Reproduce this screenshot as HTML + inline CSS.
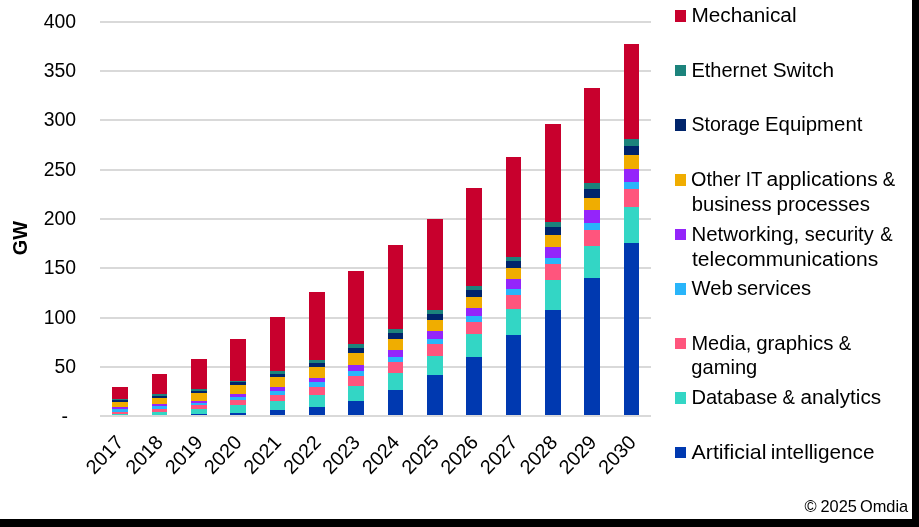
<!DOCTYPE html>
<html><head><meta charset="utf-8"><title>chart</title>
<style>
html,body{margin:0;padding:0;background:#fff;}
body{width:919px;height:527px;overflow:hidden;}
svg{display:block;will-change:transform;font-family:"Liberation Sans",sans-serif;}
</style></head><body>
<svg width="919" height="527" viewBox="0 0 919 527">
<rect x="0" y="0" width="919" height="527" fill="#ffffff"/>

<g shape-rendering="crispEdges" fill="#D9D9D9">
<rect x="100" y="21" width="551" height="2"/>
<rect x="100" y="70" width="551" height="2"/>
<rect x="100" y="119" width="551" height="2"/>
<rect x="100" y="169" width="551" height="2"/>
<rect x="100" y="218" width="551" height="2"/>
<rect x="100" y="267" width="551" height="2"/>
<rect x="100" y="317" width="551" height="2"/>
<rect x="100" y="366" width="551" height="2"/>
<rect x="100" y="415" width="551" height="2"/>
</g>
<g shape-rendering="crispEdges">
<rect x="112" y="387" width="16" height="12" fill="#C8002D"/>
<rect x="112" y="399" width="16" height="1" fill="#1C837C"/>
<rect x="112" y="400" width="16" height="2" fill="#00246B"/>
<rect x="112" y="402" width="16" height="5" fill="#F0AD00"/>
<rect x="112" y="407" width="16" height="2" fill="#9425FA"/>
<rect x="112" y="409" width="16" height="3" fill="#29B5FA"/>
<rect x="112" y="412" width="16" height="2" fill="#FF557D"/>
<rect x="112" y="414" width="16" height="1" fill="#33D6C5"/>
<rect x="152" y="374" width="15" height="20" fill="#C8002D"/>
<rect x="152" y="394" width="15" height="2" fill="#1C837C"/>
<rect x="152" y="396" width="15" height="2" fill="#00246B"/>
<rect x="152" y="398" width="15" height="6" fill="#F0AD00"/>
<rect x="152" y="404" width="15" height="2" fill="#9425FA"/>
<rect x="152" y="406" width="15" height="3" fill="#29B5FA"/>
<rect x="152" y="409" width="15" height="3" fill="#FF557D"/>
<rect x="152" y="412" width="15" height="3" fill="#33D6C5"/>
<rect x="191" y="359" width="16" height="30" fill="#C8002D"/>
<rect x="191" y="389" width="16" height="2" fill="#1C837C"/>
<rect x="191" y="391" width="16" height="2" fill="#00246B"/>
<rect x="191" y="393" width="16" height="8" fill="#F0AD00"/>
<rect x="191" y="401" width="16" height="2" fill="#9425FA"/>
<rect x="191" y="403" width="16" height="2" fill="#29B5FA"/>
<rect x="191" y="405" width="16" height="4" fill="#FF557D"/>
<rect x="191" y="409" width="16" height="5" fill="#33D6C5"/>
<rect x="191" y="414" width="16" height="1" fill="#0039B0"/>
<rect x="230" y="339" width="16" height="42" fill="#C8002D"/>
<rect x="230" y="381" width="16" height="1" fill="#1C837C"/>
<rect x="230" y="382" width="16" height="3" fill="#00246B"/>
<rect x="230" y="385" width="16" height="9" fill="#F0AD00"/>
<rect x="230" y="394" width="16" height="3" fill="#9425FA"/>
<rect x="230" y="397" width="16" height="3" fill="#29B5FA"/>
<rect x="230" y="400" width="16" height="5" fill="#FF557D"/>
<rect x="230" y="405" width="16" height="8" fill="#33D6C5"/>
<rect x="230" y="413" width="16" height="2" fill="#0039B0"/>
<rect x="270" y="317" width="15" height="54" fill="#C8002D"/>
<rect x="270" y="371" width="15" height="3" fill="#1C837C"/>
<rect x="270" y="374" width="15" height="3" fill="#00246B"/>
<rect x="270" y="377" width="15" height="10" fill="#F0AD00"/>
<rect x="270" y="387" width="15" height="4" fill="#9425FA"/>
<rect x="270" y="391" width="15" height="4" fill="#29B5FA"/>
<rect x="270" y="395" width="15" height="6" fill="#FF557D"/>
<rect x="270" y="401" width="15" height="9" fill="#33D6C5"/>
<rect x="270" y="410" width="15" height="5" fill="#0039B0"/>
<rect x="309" y="292" width="16" height="68" fill="#C8002D"/>
<rect x="309" y="360" width="16" height="3" fill="#1C837C"/>
<rect x="309" y="363" width="16" height="4" fill="#00246B"/>
<rect x="309" y="367" width="16" height="11" fill="#F0AD00"/>
<rect x="309" y="378" width="16" height="4" fill="#9425FA"/>
<rect x="309" y="382" width="16" height="5" fill="#29B5FA"/>
<rect x="309" y="387" width="16" height="8" fill="#FF557D"/>
<rect x="309" y="395" width="16" height="12" fill="#33D6C5"/>
<rect x="309" y="407" width="16" height="8" fill="#0039B0"/>
<rect x="348" y="271" width="16" height="73" fill="#C8002D"/>
<rect x="348" y="344" width="16" height="4" fill="#1C837C"/>
<rect x="348" y="348" width="16" height="5" fill="#00246B"/>
<rect x="348" y="353" width="16" height="12" fill="#F0AD00"/>
<rect x="348" y="365" width="16" height="6" fill="#9425FA"/>
<rect x="348" y="371" width="16" height="5" fill="#29B5FA"/>
<rect x="348" y="376" width="16" height="10" fill="#FF557D"/>
<rect x="348" y="386" width="16" height="15" fill="#33D6C5"/>
<rect x="348" y="401" width="16" height="14" fill="#0039B0"/>
<rect x="388" y="245" width="15" height="84" fill="#C8002D"/>
<rect x="388" y="329" width="15" height="4" fill="#1C837C"/>
<rect x="388" y="333" width="15" height="6" fill="#00246B"/>
<rect x="388" y="339" width="15" height="11" fill="#F0AD00"/>
<rect x="388" y="350" width="15" height="7" fill="#9425FA"/>
<rect x="388" y="357" width="15" height="5" fill="#29B5FA"/>
<rect x="388" y="362" width="15" height="11" fill="#FF557D"/>
<rect x="388" y="373" width="15" height="17" fill="#33D6C5"/>
<rect x="388" y="390" width="15" height="25" fill="#0039B0"/>
<rect x="427" y="219" width="16" height="91" fill="#C8002D"/>
<rect x="427" y="310" width="16" height="4" fill="#1C837C"/>
<rect x="427" y="314" width="16" height="6" fill="#00246B"/>
<rect x="427" y="320" width="16" height="11" fill="#F0AD00"/>
<rect x="427" y="331" width="16" height="8" fill="#9425FA"/>
<rect x="427" y="339" width="16" height="5" fill="#29B5FA"/>
<rect x="427" y="344" width="16" height="12" fill="#FF557D"/>
<rect x="427" y="356" width="16" height="19" fill="#33D6C5"/>
<rect x="427" y="375" width="16" height="40" fill="#0039B0"/>
<rect x="466" y="188" width="16" height="98" fill="#C8002D"/>
<rect x="466" y="286" width="16" height="4" fill="#1C837C"/>
<rect x="466" y="290" width="16" height="7" fill="#00246B"/>
<rect x="466" y="297" width="16" height="11" fill="#F0AD00"/>
<rect x="466" y="308" width="16" height="8" fill="#9425FA"/>
<rect x="466" y="316" width="16" height="6" fill="#29B5FA"/>
<rect x="466" y="322" width="16" height="12" fill="#FF557D"/>
<rect x="466" y="334" width="16" height="23" fill="#33D6C5"/>
<rect x="466" y="357" width="16" height="58" fill="#0039B0"/>
<rect x="506" y="157" width="15" height="100" fill="#C8002D"/>
<rect x="506" y="257" width="15" height="4" fill="#1C837C"/>
<rect x="506" y="261" width="15" height="7" fill="#00246B"/>
<rect x="506" y="268" width="15" height="11" fill="#F0AD00"/>
<rect x="506" y="279" width="15" height="10" fill="#9425FA"/>
<rect x="506" y="289" width="15" height="6" fill="#29B5FA"/>
<rect x="506" y="295" width="15" height="14" fill="#FF557D"/>
<rect x="506" y="309" width="15" height="26" fill="#33D6C5"/>
<rect x="506" y="335" width="15" height="80" fill="#0039B0"/>
<rect x="545" y="124" width="16" height="98" fill="#C8002D"/>
<rect x="545" y="222" width="16" height="5" fill="#1C837C"/>
<rect x="545" y="227" width="16" height="8" fill="#00246B"/>
<rect x="545" y="235" width="16" height="12" fill="#F0AD00"/>
<rect x="545" y="247" width="16" height="11" fill="#9425FA"/>
<rect x="545" y="258" width="16" height="6" fill="#29B5FA"/>
<rect x="545" y="264" width="16" height="16" fill="#FF557D"/>
<rect x="545" y="280" width="16" height="30" fill="#33D6C5"/>
<rect x="545" y="310" width="16" height="105" fill="#0039B0"/>
<rect x="584" y="88" width="16" height="95" fill="#C8002D"/>
<rect x="584" y="183" width="16" height="6" fill="#1C837C"/>
<rect x="584" y="189" width="16" height="9" fill="#00246B"/>
<rect x="584" y="198" width="16" height="12" fill="#F0AD00"/>
<rect x="584" y="210" width="16" height="13" fill="#9425FA"/>
<rect x="584" y="223" width="16" height="7" fill="#29B5FA"/>
<rect x="584" y="230" width="16" height="16" fill="#FF557D"/>
<rect x="584" y="246" width="16" height="32" fill="#33D6C5"/>
<rect x="584" y="278" width="16" height="137" fill="#0039B0"/>
<rect x="624" y="44" width="15" height="95" fill="#C8002D"/>
<rect x="624" y="139" width="15" height="7" fill="#1C837C"/>
<rect x="624" y="146" width="15" height="9" fill="#00246B"/>
<rect x="624" y="155" width="15" height="14" fill="#F0AD00"/>
<rect x="624" y="169" width="15" height="13" fill="#9425FA"/>
<rect x="624" y="182" width="15" height="7" fill="#29B5FA"/>
<rect x="624" y="189" width="15" height="18" fill="#FF557D"/>
<rect x="624" y="207" width="15" height="36" fill="#33D6C5"/>
<rect x="624" y="243" width="15" height="172" fill="#0039B0"/>
</g>
<g font-size="19.4" fill="#000" text-anchor="end">
<text x="76" y="27.7">400</text>
<text x="76" y="76.7">350</text>
<text x="76" y="125.7">300</text>
<text x="76" y="175.7">250</text>
<text x="76" y="224.7">200</text>
<text x="76" y="273.7">150</text>
<text x="76" y="323.7">100</text>
<text x="76" y="372.7">50</text>
<text x="68" y="423.2">-</text>
</g>
<text transform="translate(27.2,238.2) rotate(-90)" font-size="19.8" font-weight="bold" text-anchor="middle" fill="#000">GW</text>
<g font-size="19.8" fill="#000" text-anchor="end">
<text transform="translate(124.6,443.2) rotate(-46.5)">2017</text>
<text transform="translate(164.2,443.2) rotate(-46.5)">2018</text>
<text transform="translate(203.8,443.2) rotate(-46.5)">2019</text>
<text transform="translate(242.8,443.2) rotate(-46.5)">2020</text>
<text transform="translate(282.4,443.2) rotate(-46.5)">2021</text>
<text transform="translate(322.0,443.2) rotate(-46.5)">2022</text>
<text transform="translate(361.1,443.2) rotate(-46.5)">2023</text>
<text transform="translate(400.7,443.2) rotate(-46.5)">2024</text>
<text transform="translate(440.2,443.2) rotate(-46.5)">2025</text>
<text transform="translate(479.3,443.2) rotate(-46.5)">2026</text>
<text transform="translate(518.9,443.2) rotate(-46.5)">2027</text>
<text transform="translate(558.5,443.2) rotate(-46.5)">2028</text>
<text transform="translate(597.6,443.2) rotate(-46.5)">2029</text>
<text transform="translate(637.1,443.2) rotate(-46.5)">2030</text>
</g>
<g font-size="19.8" fill="#000">
<rect x="675" y="10" width="11" height="12" fill="#C8002D" shape-rendering="crispEdges"/>
<text transform="translate(691.38,21.80) scale(1.0504,1)">Mechanical</text>
<rect x="675" y="65" width="11" height="11" fill="#1C837C" shape-rendering="crispEdges"/>
<text transform="translate(691.44,76.80) scale(1.0113,1)">Ethernet</text>
<text transform="translate(772.75,76.80) scale(1.0497,1)">Switch</text>
<rect x="675" y="119" width="11" height="12" fill="#00246B" shape-rendering="crispEdges"/>
<text transform="translate(691.39,130.70) scale(0.9893,1)">Storage</text>
<text transform="translate(765.01,130.70) scale(1.0292,1)">Equipment</text>
<rect x="675" y="174" width="11" height="12" fill="#F0AD00" shape-rendering="crispEdges"/>
<text transform="translate(691.07,185.70) scale(0.9981,1)">Other</text>
<text transform="translate(745.76,185.70) scale(0.9400,1)">IT</text>
<text transform="translate(766.44,185.70) scale(1.0645,1)">applications</text>
<text transform="translate(882.75,185.70) scale(0.9400,1)">&amp;</text>
<text transform="translate(691.74,210.60) scale(1.0211,1)">business</text>
<text transform="translate(776.52,210.60) scale(1.0352,1)">processes</text>
<rect x="675" y="229" width="11" height="11" fill="#9425FA" shape-rendering="crispEdges"/>
<text transform="translate(691.40,240.80) scale(1.0314,1)">Networking,</text>
<text transform="translate(804.79,240.80) scale(1.0102,1)">security</text>
<text transform="translate(880.25,240.80) scale(0.9400,1)">&amp;</text>
<text transform="translate(692.00,265.70) scale(1.0645,1)">telecommunications</text>
<rect x="675" y="283" width="11" height="12" fill="#29B5FA" shape-rendering="crispEdges"/>
<text transform="translate(691.50,294.60) scale(1.0214,1)">Web</text>
<text transform="translate(736.98,294.60) scale(1.0225,1)">services</text>
<rect x="675" y="338" width="11" height="11" fill="#FF557D" shape-rendering="crispEdges"/>
<text transform="translate(691.44,349.60) scale(1.0088,1)">Media,</text>
<text transform="translate(756.16,349.60) scale(1.0326,1)">graphics</text>
<text transform="translate(838.85,349.60) scale(0.9400,1)">&amp;</text>
<text transform="translate(691.37,374.20) scale(1.0157,1)">gaming</text>
<rect x="675" y="392" width="11" height="12" fill="#33D6C5" shape-rendering="crispEdges"/>
<text transform="translate(691.43,403.80) scale(1.0157,1)">Database</text>
<text transform="translate(782.55,403.80) scale(0.9400,1)">&amp;</text>
<text transform="translate(800.55,403.80) scale(1.0462,1)">analytics</text>
<rect x="675" y="447" width="11" height="11" fill="#0039B0" shape-rendering="crispEdges"/>
<text transform="translate(691.50,458.80) scale(1.0808,1)">Artificial</text>
<text transform="translate(770.70,458.80) scale(1.0482,1)">intelligence</text>
</g>
<g font-size="15.7" fill="#000">
<text transform="translate(804.60,511.70) scale(1.0495,1)">©</text>
<text transform="translate(820.43,511.70) scale(1.0431,1)">2025</text>
<text transform="translate(859.93,511.70) scale(1.0437,1)">Omdia</text>
</g>
<rect x="912" y="0" width="7" height="527" fill="#000" shape-rendering="crispEdges"/>
<rect x="0" y="519" width="919" height="8" fill="#000" shape-rendering="crispEdges"/>
</svg></body></html>
